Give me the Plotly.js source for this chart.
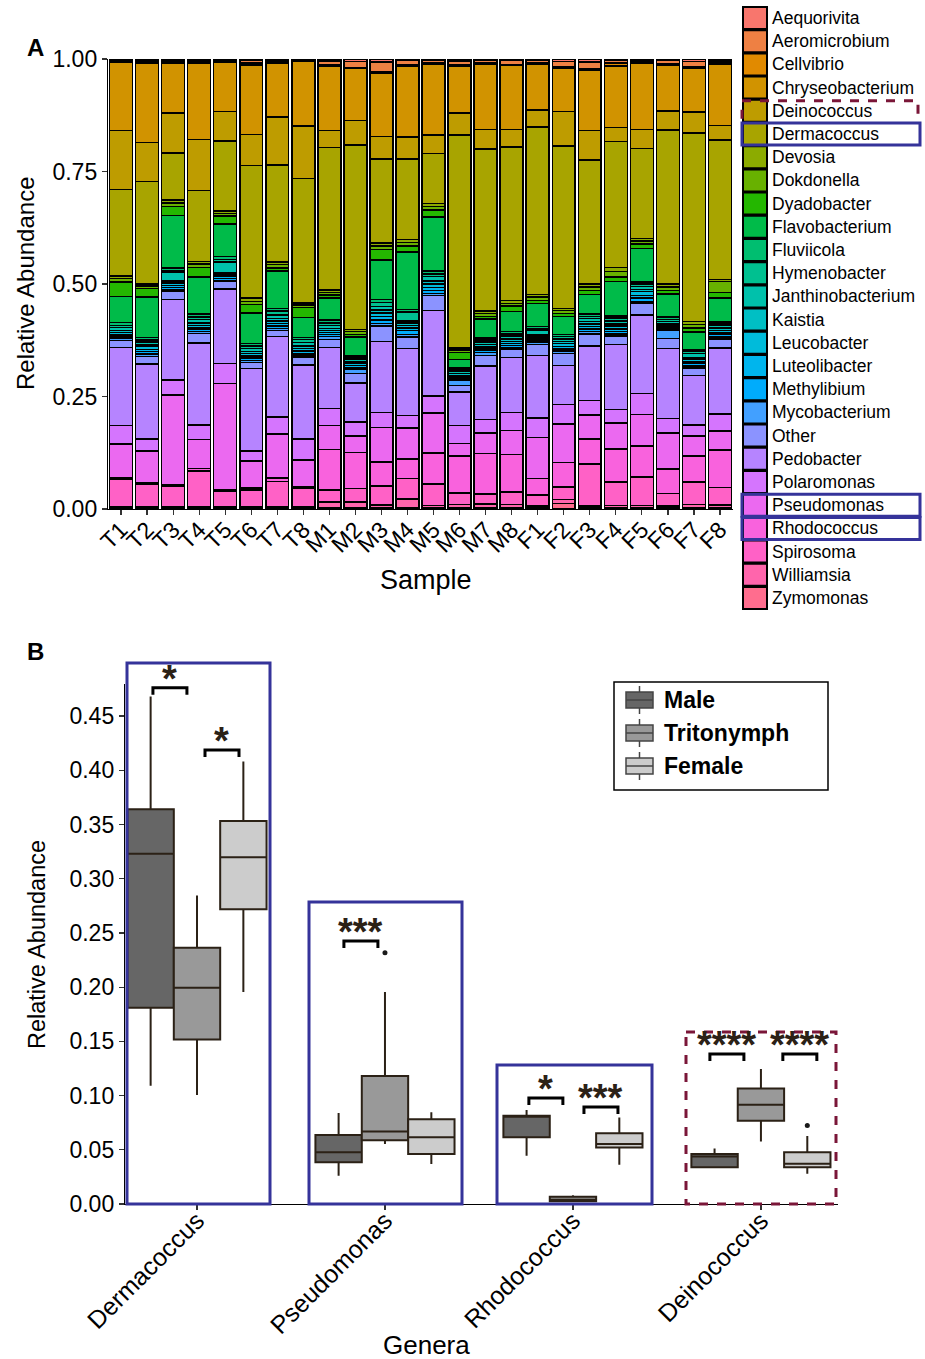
<!DOCTYPE html>
<html><head><meta charset="utf-8">
<script src="https://cdn.plot.ly/plotly-3.0.1.min.js"></script>
<style>body{margin:0;background:#fff}#chart{width:925px;height:1359px}</style>
</head><body><div id="chart"></div>
<script>
// ---------------- Panel A data ----------------
const samples = ['T1','T2','T3','T4','T5','T6','T7','T8','M1','M2','M3','M4','M5','M6','M7','M8','F1','F2','F3','F4','F5','F6','F7','F8'];
const genera = ['Aequorivita','Aeromicrobium','Cellvibrio','Chryseobacterium','Deinococcus','Dermacoccus','Devosia','Dokdonella','Dyadobacter','Flavobacterium','Fluviicola','Hymenobacter','Janthinobacterium','Kaistia','Leucobacter','Luteolibacter','Methylibium','Mycobacterium','Other','Pedobacter','Polaromonas','Pseudomonas','Rhodococcus','Spirosoma','Williamsia','Zymomonas'];

const Aequorivita = [0.002,0.002,0.003,0.002,0.002,0.003,0.002,0.001, 0.004,0.005,0.006,0.003,0.003,0.004,0.003,0.003, 0.003,0.005,0.006,0.003,0.002,0.003,0.005,0.002];
const Aeromicrobium = [0.002,0.005,0.004,0.004,0.003,0.006,0.005,0.002, 0.009,0.013,0.022,0.009,0.006,0.009,0.006,0.009, 0.006,0.012,0.016,0.006,0.004,0.008,0.012,0.005];
const Cellvibrio = [0.002,0.003,0.002,0.003,0.002,0.004,0.003,0.002, 0.002,0.003,0.003,0.003,0.002,0.003,0.002,0.002, 0.002,0.003,0.003,0.006,0.004,0.003,0.003,0.004];
const Chryseobacterium = [0.150,0.174,0.110,0.167,0.107,0.152,0.116,0.142, 0.140,0.113,0.136,0.152,0.153,0.102,0.142,0.139, 0.098,0.093,0.130,0.131,0.142,0.100,0.094,0.133];
const Deinococcus = [0.128,0.085,0.087,0.111,0.063,0.067,0.104,0.116, 0.037,0.054,0.048,0.047,0.039,0.048,0.042,0.037, 0.037,0.074,0.065,0.030,0.041,0.041,0.046,0.031];
const Dermacoccus = [0.189,0.226,0.104,0.154,0.152,0.289,0.210,0.274, 0.308,0.402,0.181,0.173,0.108,0.467,0.350,0.333, 0.359,0.350,0.270,0.269,0.193,0.336,0.406,0.301];
const Devosia = [0.005,0.004,0.006,0.006,0.005,0.008,0.006,0.005, 0.005,0.005,0.006,0.006,0.006,0.005,0.006,0.006, 0.006,0.005,0.006,0.008,0.006,0.006,0.006,0.005];
const Dokdonella = [0.008,0.006,0.008,0.008,0.006,0.007,0.007,0.005, 0.006,0.006,0.008,0.008,0.008,0.005,0.006,0.006, 0.007,0.006,0.008,0.012,0.006,0.008,0.008,0.023];
const Dyadobacter = [0.031,0.019,0.020,0.020,0.017,0.018,0.007,0.022, 0.006,0.006,0.022,0.012,0.015,0.015,0.006,0.011, 0.007,0.006,0.008,0.010,0.010,0.008,0.008,0.012];
const Flavobacterium = [0.057,0.089,0.115,0.081,0.070,0.067,0.081,0.044, 0.048,0.041,0.085,0.124,0.116,0.019,0.041,0.044, 0.049,0.039,0.043,0.073,0.072,0.050,0.039,0.052];
const Fluviicola = [0.006,0.005,0.005,0.006,0.007,0.005,0.006,0.005, 0.006,0.004,0.007,0.005,0.006,0.004,0.004,0.005, 0.004,0.005,0.005,0.005,0.005,0.005,0.004,0.004];
const Hymenobacter = [0.005,0.005,0.004,0.006,0.005,0.006,0.008,0.006, 0.006,0.004,0.008,0.019,0.006,0.004,0.004,0.005, 0.004,0.005,0.005,0.006,0.005,0.005,0.004,0.004];
const Janthinobacterium = [0.006,0.006,0.019,0.008,0.024,0.006,0.008,0.008, 0.006,0.005,0.008,0.005,0.010,0.004,0.006,0.006, 0.010,0.005,0.006,0.006,0.006,0.004,0.008,0.005];
const Kaistia = [0.005,0.004,0.005,0.005,0.004,0.005,0.005,0.006, 0.005,0.004,0.006,0.005,0.006,0.004,0.005,0.005, 0.005,0.005,0.005,0.005,0.005,0.004,0.004,0.005];
const Leucobacter = [0.005,0.006,0.005,0.005,0.004,0.005,0.006,0.005, 0.004,0.004,0.008,0.005,0.008,0.003,0.005,0.005, 0.004,0.006,0.006,0.006,0.008,0.003,0.006,0.006];
const Luteolibacter = [0.004,0.005,0.005,0.004,0.004,0.005,0.005,0.005, 0.004,0.004,0.007,0.006,0.006,0.003,0.003,0.004, 0.004,0.005,0.005,0.005,0.006,0.003,0.003,0.003];
const Methylibium = [0.004,0.005,0.005,0.004,0.004,0.005,0.005,0.004, 0.005,0.004,0.008,0.008,0.006,0.004,0.004,0.005, 0.004,0.005,0.006,0.006,0.008,0.004,0.006,0.006];
const Mycobacterium = [0.004,0.005,0.004,0.004,0.003,0.004,0.005,0.004, 0.006,0.009,0.005,0.006,0.005,0.012,0.007,0.004, 0.004,0.005,0.005,0.004,0.004,0.019,0.004,0.004];
const Other = [0.015,0.017,0.017,0.021,0.016,0.013,0.013,0.018, 0.017,0.021,0.034,0.024,0.032,0.015,0.022,0.017, 0.024,0.026,0.026,0.018,0.024,0.022,0.016,0.019];
const Pedobacter = [0.170,0.165,0.177,0.179,0.161,0.180,0.174,0.163, 0.132,0.085,0.152,0.144,0.184,0.073,0.116,0.119, 0.134,0.084,0.119,0.139,0.169,0.153,0.107,0.143];
const Polaromonas = [0.040,0.026,0.033,0.032,0.043,0.022,0.037,0.046, 0.037,0.031,0.033,0.026,0.037,0.040,0.030,0.039, 0.042,0.042,0.032,0.028,0.046,0.031,0.024,0.037];
const Pseudomonas = [0.074,0.070,0.196,0.063,0.231,0.059,0.096,0.058, 0.052,0.036,0.074,0.067,0.085,0.027,0.044,0.052, 0.087,0.083,0.052,0.056,0.067,0.079,0.043,0.041];
const Rhodococcus = [0.004,0.003,0.004,0.005,0.003,0.004,0.007,0.004, 0.088,0.078,0.052,0.042,0.067,0.081,0.087,0.081, 0.036,0.053,0.054,0.070,0.067,0.053,0.056,0.081];
const Spirosoma = [0.059,0.050,0.045,0.078,0.033,0.037,0.055,0.041, 0.026,0.030,0.040,0.044,0.046,0.025,0.022,0.027, 0.024,0.027,0.091,0.050,0.061,0.027,0.048,0.037];
const Williamsia = [0.003,0.003,0.003,0.003,0.003,0.003,0.003,0.003, 0.012,0.012,0.006,0.018,0.005,0.007,0.008,0.007, 0.004,0.008,0.005,0.006,0.006,0.005,0.008,0.007];
const Zymomonas = [0.002,0.002,0.002,0.002,0.002,0.002,0.002,0.002, 0.003,0.003,0.003,0.003,0.003,0.003,0.003,0.003, 0.002,0.012,0.002,0.002,0.002,0.002,0.002,0.002];

// ---------------- Panel B data ----------------
const boxGenera = ['Dermacoccus','Pseudomonas','Rhodococcus','Deinococcus'];
const stages = ['Male','Tritonymph','Female'];
const maleLower  = [0.109, 0.026, 0.0445, 0.033];
const maleQ1     = [0.181, 0.0386, 0.0616, 0.034];
const maleMedian = [0.323, 0.0478, 0.0805, 0.0438];
const maleQ3     = [0.364, 0.0636, 0.0814, 0.0461];
const maleUpper  = [0.468, 0.084, 0.0867, 0.0511];
const tritoLower  = [0.1005, 0.0554, 0.0015, 0.0577];
const tritoQ1     = [0.1516, 0.0587, 0.0026, 0.0768];
const tritoMedian = [0.1994, 0.0669, 0.0040, 0.0916];
const tritoQ3     = [0.2363, 0.118, 0.0066, 0.1065];
const tritoUpper  = [0.2844, 0.1955, 0.0080, 0.1246];
const femaleLower  = [0.1955, 0.0369, 0.0363, 0.028];
const femaleQ1     = [0.2719, 0.0461, 0.0521, 0.034];
const femaleMedian = [0.3197, 0.0616, 0.0554, 0.0372];
const femaleQ3     = [0.3533, 0.0781, 0.0653, 0.0478];
const femaleUpper  = [0.408, 0.0847, 0.0798, 0.0626];
const outlierGenus = ['Pseudomonas','Deinococcus'];
const outlierStage = ['Tritonymph','Female'];
const outlierValue = [0.2317, 0.0725];
// significance brackets: genus, label, bracket level, bracket centre (category units)
const sigGenus  = ['Dermacoccus','Dermacoccus','Pseudomonas','Rhodococcus','Rhodococcus','Deinococcus','Deinococcus'];
const sigLabel  = ['*','*','***','*','***','****','****'];
const sigLevel  = [0.476, 0.4187, 0.2425, 0.0977, 0.0894, 0.1383, 0.1383];
const sigCenter = [-0.144, 0.133, 0.872, 1.856, 2.149, 2.819, 3.207];

// ---------------- helpers ----------------
const W = 925, H = 1359;
const px = x => x / W, py = y => 1 - y / H;
const FONT = 'Liberation Sans, Arial, sans-serif';

function hcl(h, c, l) {
  const WY = 100, Wu = 0.1978398, Wv = 0.4683363;
  const hr = h * Math.PI / 180;
  const U = c * Math.cos(hr), V = c * Math.sin(hr);
  const Y = WY * (l > 7.999592 ? Math.pow((l + 16) / 116, 3) : l / 903.3);
  const t = 13 * l;
  const u = U / t + Wu, v = V / t + Wv;
  const X = 9 * Y * u / (4 * v);
  const Z = -X / 3 - 5 * Y + 3 * Y / v;
  const g = x => x > 0.00304 ? 1.055 * Math.pow(x, 1 / 2.4) - 0.055 : 12.92 * x;
  const rgb = [
    g((3.240479 * X - 1.537150 * Y - 0.498535 * Z) / WY),
    g((-0.969256 * X + 1.875992 * Y + 0.041556 * Z) / WY),
    g((0.055648 * X - 0.204043 * Y + 1.057311 * Z) / WY)
  ].map(x => Math.round(Math.min(1, Math.max(0, x)) * 255));
  return '#' + rgb.map(x => x.toString(16).padStart(2, '0')).join('');
}
const nG = genera.length;
const genusColors = genera.map((g, i) => hcl(15 + i * 360 / nG, 100, 65));

const valuesByGenus = {Aequorivita, Aeromicrobium, Cellvibrio, Chryseobacterium, Deinococcus, Dermacoccus, Devosia, Dokdonella, Dyadobacter, Flavobacterium, Fluviicola, Hymenobacter, Janthinobacterium, Kaistia, Leucobacter, Luteolibacter, Methylibium, Mycobacterium, Other, Pedobacter, Polaromonas, Pseudomonas, Rhodococcus, Spirosoma, Williamsia, Zymomonas};

const A = {x0: 108, x1: 733, y0: 509, y1: 59};
const B = {x0: 125, x1: 838, y0: 1204, y1: 683.5, xr: [-0.383, 3.41], yr: [0, 0.48]};
const bx = u => B.x0 + (u - B.xr[0]) / (B.xr[1] - B.xr[0]) * (B.x1 - B.x0);
const by = v => B.y0 - (v - B.yr[0]) / (B.yr[1] - B.yr[0]) * (B.y0 - B.y1);
const BOXGAP = 0.26;
const boxW = (1 - BOXGAP) / stages.length;

const traces = [];
for (let i = nG - 1; i >= 0; i--) {
  traces.push({
    type: 'bar', x: samples, y: valuesByGenus[genera[i]], name: genera[i],
    marker: {color: genusColors[i], line: {color: '#000', width: 1.5}},
    xaxis: 'x', yaxis: 'y', showlegend: false, hoverinfo: 'name+y'
  });
}

const stageColors = ['#666666', '#999999', '#cccccc'];
const stats = [
  [maleLower, maleQ1, maleMedian, maleQ3, maleUpper],
  [tritoLower, tritoQ1, tritoMedian, tritoQ3, tritoUpper],
  [femaleLower, femaleQ1, femaleMedian, femaleQ3, femaleUpper]
];
const catPos = boxGenera.map((g, i) => i);
stages.forEach((s, k) => {
  const [lo, q1, med, q3, up] = stats[k];
  traces.push({
    type: 'box', name: s, x: catPos, lowerfence: lo, q1: q1, median: med, q3: q3, upperfence: up,
    fillcolor: stageColors[k], line: {color: '#2b2116', width: 2}, whiskerwidth: 0,
    boxpoints: false, xaxis: 'x2', yaxis: 'y2', showlegend: false
  });
});
traces.push({
  type: 'scatter', mode: 'markers',
  x: outlierGenus.map((g, i) => boxGenera.indexOf(g) + (stages.indexOf(outlierStage[i]) - 1) * boxW),
  y: outlierValue, marker: {color: '#1a1a1a', size: 5},
  xaxis: 'x2', yaxis: 'y2', showlegend: false, hoverinfo: 'y'
});

const shapes = [], annotations = [];
function note(text, x, y, size, extra) {
  annotations.push(Object.assign({text: text, x: px(x), y: py(y), xref: 'paper', yref: 'paper', xanchor: 'center', yanchor: 'middle',
    showarrow: false, font: {family: FONT, size: size, color: '#000'}}, extra || {}));
}
note('<b>A</b>', 35, 47, 24);
note('<b>B</b>', 35, 652, 24);
note('Relative Abundance', 25, 283, 24, {textangle: -90});
note('Sample', 426, 580, 27);
note('Relative Abundance', 37, 945, 23.5, {textangle: -90});
note('Genera', 426, 1345, 26);

// Panel A legend
genera.forEach((g, i) => {
  const yc = 18 + i * 23.2;
  shapes.push({type: 'rect', xref: 'paper', yref: 'paper', x0: px(743), x1: px(767), y0: py(yc - 11), y1: py(yc + 11),
    fillcolor: genusColors[i], line: {color: '#000', width: 2}});
  note(g, 770, yc, 17.5, {xanchor: 'left'});
});
const BLUE = '#35339a', MAROON = '#7a1638';
const legY = g => 18 + genera.indexOf(g) * 23.2;
['Dermacoccus', 'Pseudomonas', 'Rhodococcus'].forEach(g => {
  const yc = legY(g);
  shapes.push({type: 'rect', xref: 'paper', yref: 'paper', x0: px(742), x1: px(920), y0: py(yc - 11), y1: py(yc + 11), line: {color: BLUE, width: 3}});
});
{
  const yc = legY('Deinococcus');
  shapes.push({type: 'path', xref: 'paper', yref: 'paper',
    path: `M ${px(742)},${py(yc + 8)} L ${px(742)},${py(yc - 10)} L ${px(918)},${py(yc - 10)} L ${px(918)},${py(yc + 8)}`,
    line: {color: MAROON, width: 3, dash: 'dash'}});
}

// Panel B highlight boxes
[[127, 270, 663], [309, 462, 902], [497, 652, 1065]].forEach(([x0, x1, y0]) => {
  shapes.push({type: 'rect', xref: 'paper', yref: 'paper', x0: px(x0), x1: px(x1), y0: py(y0), y1: py(1204), line: {color: BLUE, width: 3}});
});
shapes.push({type: 'rect', xref: 'paper', yref: 'paper', x0: px(686), x1: px(836), y0: py(1032), y1: py(1204), line: {color: MAROON, width: 3, dash: 'dash'}});

// significance brackets
sigGenus.forEach((g, i) => {
  const xc = bx(sigCenter[i]), yb = by(sigLevel[i]);
  const xl = xc - 17, xr = xc + 17;
  shapes.push({type: 'path', xref: 'paper', yref: 'paper',
    path: `M ${px(xl)},${py(yb + 7)} L ${px(xl)},${py(yb)} L ${px(xr)},${py(yb)} L ${px(xr)},${py(yb + 7)}`,
    line: {color: '#000', width: 3}});
  annotations.push({text: '<b>' + sigLabel[i] + '</b>', x: px(xc), y: py(yb - 9), xref: 'paper', yref: 'paper',
    xanchor: 'center', yanchor: 'middle', showarrow: false, font: {family: FONT, size: 38, color: '#2b2116'}});
});

// Panel B legend
shapes.push({type: 'rect', xref: 'paper', yref: 'paper', x0: px(614), x1: px(828), y0: py(682), y1: py(790), line: {color: '#000', width: 1.5}});
stages.forEach((s, k) => {
  const yc = 700 + k * 33;
  shapes.push({type: 'line', xref: 'paper', yref: 'paper', x0: px(639.5), x1: px(639.5), y0: py(yc - 14), y1: py(yc + 14), line: {color: '#444', width: 1.5}});
  shapes.push({type: 'rect', xref: 'paper', yref: 'paper', x0: px(626), x1: px(653), y0: py(yc - 8), y1: py(yc + 8), fillcolor: stageColors[k], line: {color: '#444', width: 1.5}});
  shapes.push({type: 'line', xref: 'paper', yref: 'paper', x0: px(626), x1: px(653), y0: py(yc), y1: py(yc), line: {color: '#444', width: 1.5}});
  note('<b>' + s + '</b>', 662, yc, 23, {xanchor: 'left'});
});

const axisCommon = {showgrid: false, zeroline: false, showline: true, linecolor: '#000', linewidth: 1.2,
  ticks: 'outside', ticklen: 5, tickcolor: '#333', tickwidth: 1.2};

const layout = {
  width: W, height: H, margin: {l: 0, r: 0, t: 0, b: 0},
  paper_bgcolor: '#fff', plot_bgcolor: '#fff', showlegend: false,
  barmode: 'stack', barnorm: 'fraction', bargap: 0.12,
  boxmode: 'group', boxgap: BOXGAP, boxgroupgap: 0,
  xaxis: Object.assign({}, axisCommon, {domain: [px(A.x0), px(A.x1)], anchor: 'y', type: 'category',
    range: [-0.5, samples.length - 0.5], tickmode: 'array', tickvals: samples, ticktext: samples,
    tickangle: -45, ticklabelstandoff: -8, tickfont: {family: FONT, size: 23, color: '#000'}}),
  yaxis: Object.assign({}, axisCommon, {domain: [py(A.y0), py(A.y1)], anchor: 'x', range: [0, 1],
    tickvals: [0, 0.25, 0.5, 0.75, 1], tickformat: '.2f', tickfont: {family: FONT, size: 23, color: '#000'}}),
  xaxis2: Object.assign({}, axisCommon, {domain: [px(B.x0), px(B.x1)], anchor: 'y2', type: 'linear',
    range: B.xr, tickmode: 'array', tickvals: catPos, ticktext: boxGenera, tickangle: -45, ticklabelstandoff: -14,
    tickfont: {family: FONT, size: 25, color: '#000'}}),
  yaxis2: Object.assign({}, axisCommon, {domain: [py(B.y0), py(B.y1)], anchor: 'x2', range: B.yr,
    tick0: 0, dtick: 0.05, tickformat: '.2f', tickfont: {family: FONT, size: 23, color: '#000'}}),
  shapes: shapes, annotations: annotations
};

Plotly.newPlot('chart', traces, layout, {displayModeBar: false, staticPlot: true});
</script>
</body></html>
